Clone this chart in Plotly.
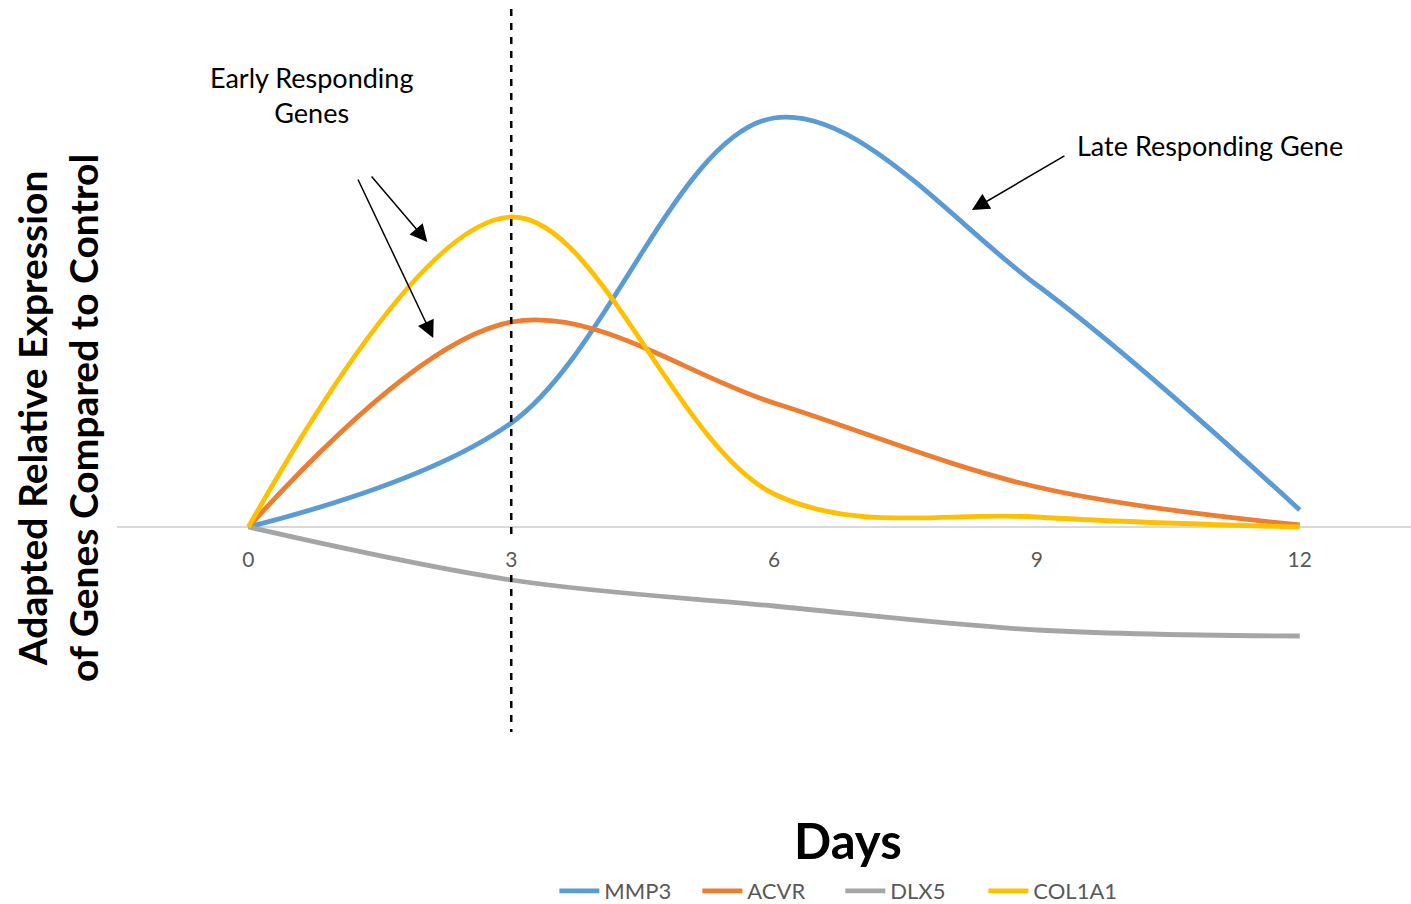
import plotly.graph_objects as go

# Sampling days
days = [0, 3, 6, 9, 12]
tick_labels = ["0", "3", "6", "9", "12"]

# Adapted relative expression versus control
mmp3 = [0.0, 2.08, 8.18, 4.84, 0.34]
acvr = [0.0, 4.10, 2.48, 0.80, 0.04]
dlx5 = [0.0, -1.06, -1.58, -2.06, -2.18]
col1a1 = [0.0, 6.20, 0.66, 0.20, 0.0]

series = [
    ("MMP3", mmp3, "#5B9BD5"),
    ("ACVR", acvr, "#ED7D31"),
    ("DLX5", dlx5, "#A5A5A5"),
    ("COL1A1", col1a1, "#FFC000"),
]

FONT = "Lato"

fig = go.Figure()
for name, vals, color in series:
    fig.add_trace(go.Scatter(
        x=days, y=vals, name=name, mode="lines",
        line=dict(color=color, width=4.8, shape="spline", smoothing=1.0),
    ))

Y_TOP, Y_BOT = 10.34, -4.10
zero_frac = (0 - Y_BOT) / (Y_TOP - Y_BOT)

fig.update_layout(
    width=1411, height=904,
    margin=dict(l=117, r=0, t=10, b=172, autoexpand=False),
    paper_bgcolor="white", plot_bgcolor="white",
    font=dict(family=FONT, color="#595959"),
    showlegend=True,
    legend=dict(
        orientation="h", x=0.559, xanchor="center", y=(732 - 891) / 722, yanchor="middle",
        font=dict(size=22, color="#595959", family=FONT),
        itemwidth=40, tracegroupgap=0,
        entrywidth=88, entrywidthmode="pixels",
    ),
    xaxis=dict(
        range=[-1.5, 13.27], tickvals=days, ticktext=tick_labels,
        anchor="free", position=zero_frac,
        showline=False, showgrid=False, zeroline=False,
        ticks="outside", ticklen=14, tickcolor="rgba(0,0,0,0)",
        tickfont=dict(size=21, color="#595959", family=FONT),
    ),
    yaxis=dict(
        range=[Y_BOT, Y_TOP], showticklabels=False, showgrid=False,
        zeroline=True, zerolinecolor="#D9D9D9", zerolinewidth=1.5,
        showline=False, ticks="",
    ),
)

# Day-3 marker separating early and late response (broken around the "3" tick label)
for y0, y1 in [(1.0015, (732 - 540) / 722), ((732 - 575) / 722, 0)]:
    fig.add_shape(
        type="line", xref="x", yref="paper", x0=3, x1=3, y0=y0, y1=y1,
        line=dict(color="black", width=2.5, dash="7px,7px"), layer="above",
    )

# Axis titles
fig.add_annotation(
    text="<b>Days</b>", xref="paper", yref="paper",
    x=(848 - 117) / 1294, y=(732 - 840) / 722,
    showarrow=False, font=dict(size=49, color="black", family=FONT),
    xanchor="center", yanchor="middle",
)
fig.add_annotation(
    text="<b>Adapted Relative Expression<br>of Genes Compared to Control</b>",
    xref="paper", yref="paper",
    x=(58 - 117) / 1294, y=(732 - 418) / 722,
    textangle=-90, showarrow=False,
    font=dict(size=39, color="black", family=FONT),
    xanchor="center", yanchor="middle",
)

# Callouts
fig.add_annotation(
    text="Early Responding<br>Genes", xref="paper", yref="paper",
    x=(311 - 117) / 1294, y=(732 - 95) / 722,
    showarrow=False, font=dict(size=27, color="black", family=FONT),
    xanchor="center", yanchor="middle",
)
fig.add_annotation(
    text="Late Responding Gene", xref="paper", yref="paper",
    x=(1075 - 117) / 1294, y=(732 - 145) / 722,
    showarrow=False, font=dict(size=27, color="black", family=FONT),
    xanchor="left", yanchor="middle",
)

arrows = [
    (2.042, 5.70, -57, -67),
    (2.110, 3.78, -76, -160),
    (8.258, 6.34, 94, -55),
]
for hx, hy, ax, ay in arrows:
    fig.add_annotation(
        x=hx, y=hy, xref="x", yref="y", ax=ax, ay=ay, text="",
        showarrow=True, arrowhead=2, arrowsize=2.3, arrowwidth=1.5,
        arrowcolor="black", standoff=0,
    )

fig.write_html("out.html")
